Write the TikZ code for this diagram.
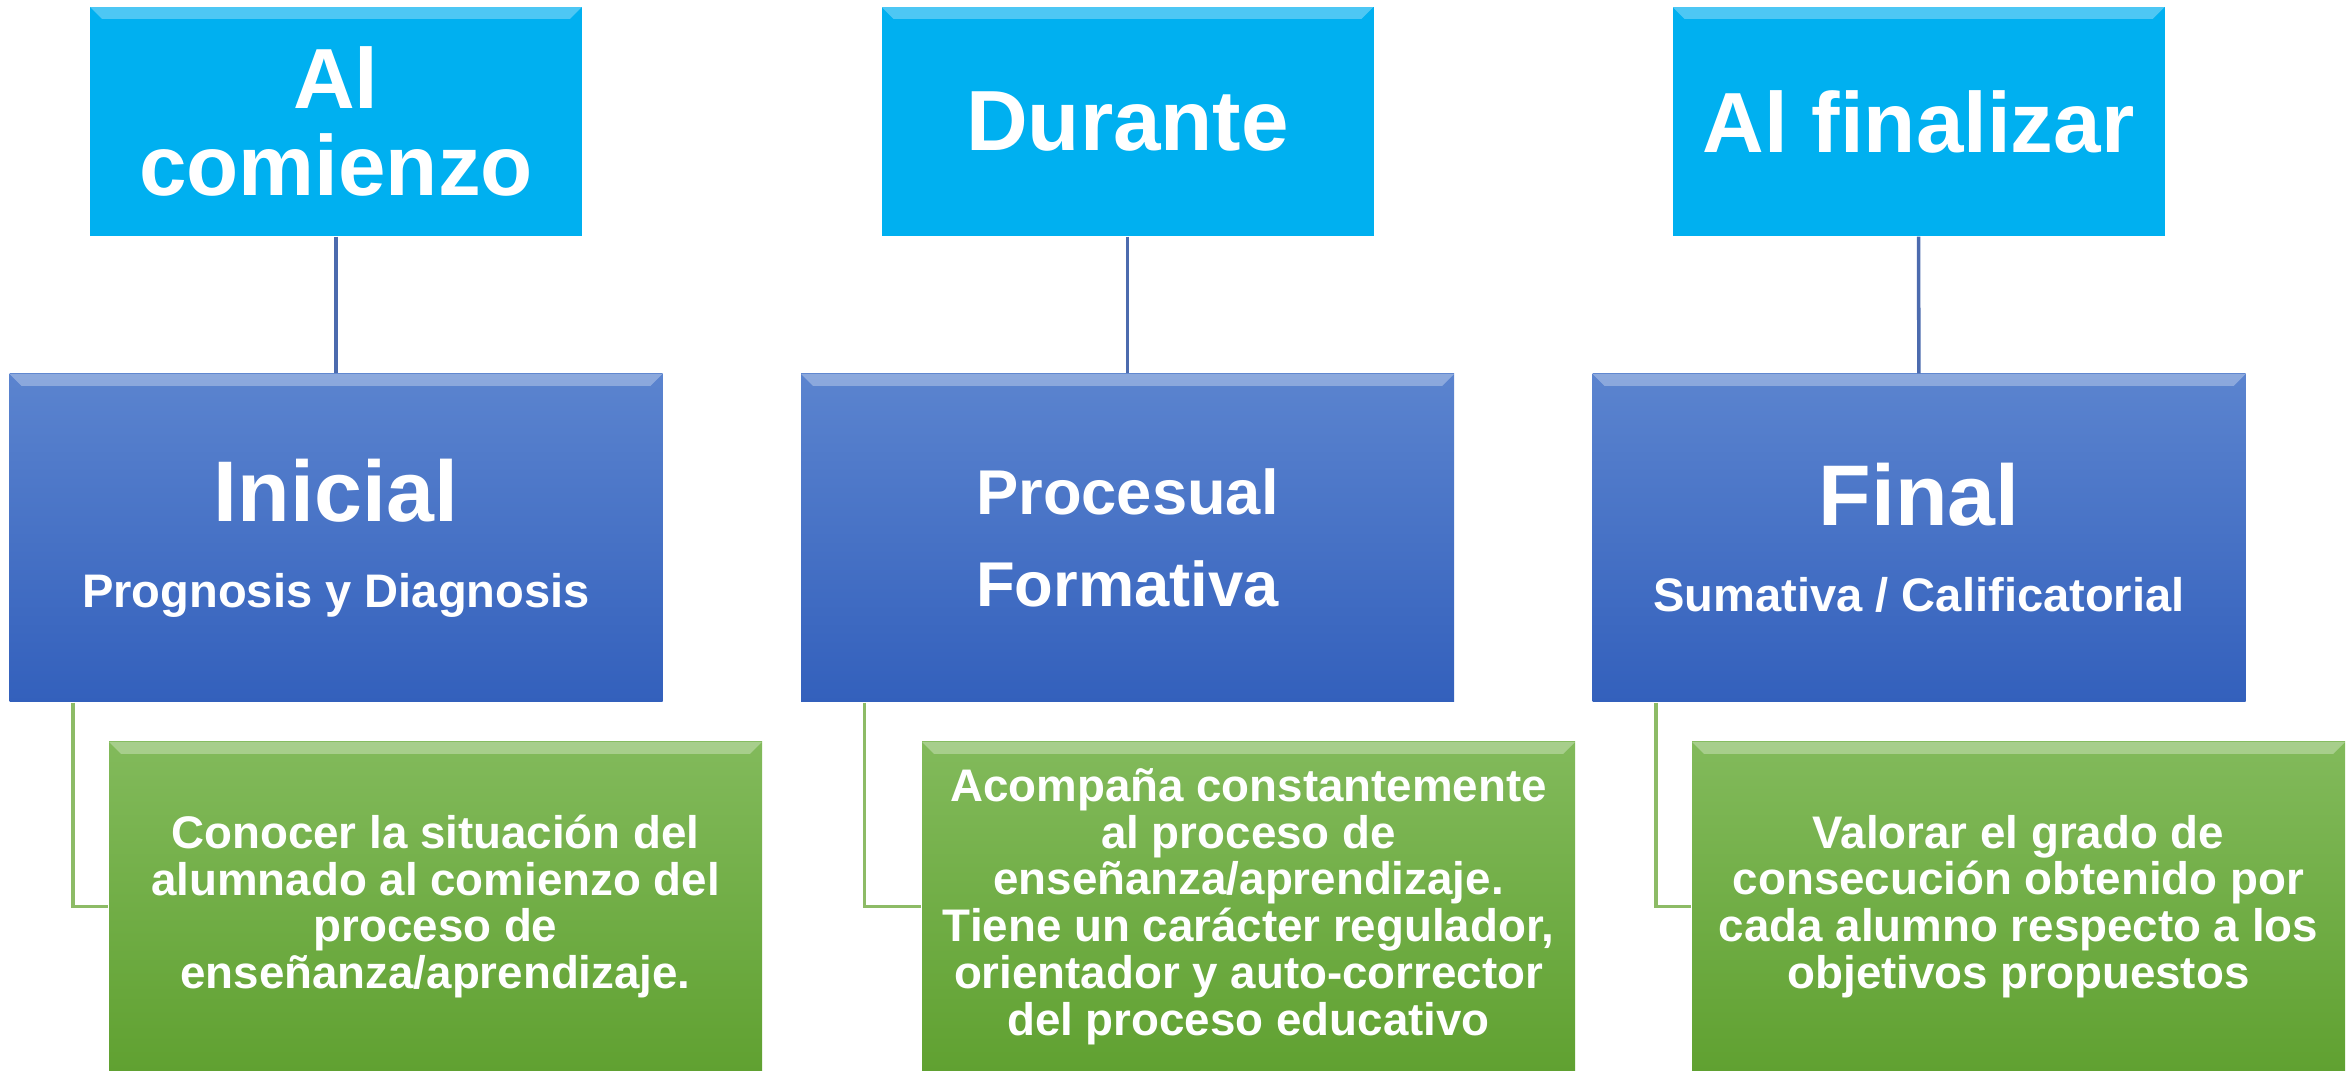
\documentclass[tikz,border=0pt]{standalone}
\usepackage{fontspec}
\setmainfont{Liberation Sans}
\usetikzlibrary{positioning}
\definecolor{cyanbox}{HTML}{00B0F0}
\definecolor{bluetop}{HTML}{5B84CF}
\definecolor{bluebot}{HTML}{3360BC}
\definecolor{greentop}{HTML}{82BA5B}
\definecolor{greenbot}{HTML}{60A131}
\definecolor{blueline}{HTML}{4C6BAE}
\definecolor{greenline}{HTML}{8DBB66}
\tikzset{
bevel/.style={ % light top edge of the boxes
path picture={
\fill[white, opacity=0.3] (path picture bounding box.north west) -- (path picture bounding box.north east)
 -- ([xshift=-0.12cm, yshift=-0.12cm]path picture bounding box.north east)
 -- ([xshift=0.12cm, yshift=-0.12cm]path picture bounding box.north west) -- cycle;}},
when/.style={ % top row
bevel, fill=cyanbox,
minimum width=4.92cm, minimum height=2.29cm, inner sep=0pt,
align=center, text=white,
font=\bfseries\fontsize{24.3}{24.5}\selectfont},
kind/.style={ % middle row
bevel, top color=bluetop, bottom color=bluebot,
minimum width=6.53cm, minimum height=3.28cm, inner sep=0pt,
align=center, text=white,
font=\bfseries\fontsize{24.5}{24.4}\selectfont},
aim/.style={ % bottom row
bevel, top color=greentop, bottom color=greenbot,
minimum width=6.53cm, minimum height=3.29cm, inner sep=0pt,
align=center, text=white,
font=\bfseries\fontsize{13}{13.3}\selectfont},
stem/.style={draw=blueline, line width=1pt},
elbow/.style={draw=greenline, line width=1pt}}

\begin{document}
\begin{tikzpicture}
\useasboundingbox (0,0) rectangle (23.46,-10.72);

\node[when] (T1) at (3.36,-1.215) {Al\\comienzo};
\node[when] (T2) at (11.275,-1.215) {Durante};
\node[when] (T3) at (19.185,-1.215) {Al finalizar};

\node[kind] (E1) at (3.36,-5.38) {Inicial\\{\fontsize{13.4}{16}\selectfont Prognosis y Diagnosis}};
\node[kind, font=\bfseries\fontsize{18}{26}\selectfont] (E2) at (11.275,-5.38) {Procesual\\Formativa};
\node[kind] (E3) at (19.19,-5.38) {Final\\{\fontsize{13.4}{16}\selectfont Sumativa / Calificatorial}};

\node[aim] (D1) at (4.355,-9.065) {Conocer la situación del\\alumnado al comienzo del\\proceso de\\enseñanza/aprendizaje.};
\node[aim] (D2) at (12.485,-9.065) {Acompaña constantemente\\al proceso de\\enseñanza/aprendizaje.\\Tiene un carácter regulador,\\orientador y auto-corrector\\del proceso educativo};
\node[aim] (D3) at (20.185,-9.065) {Valorar el grado de\\consecución obtenido por\\cada alumno respecto a los\\objetivos propuestos};

\draw[stem] (T1) -- (E1);
\draw[stem] (T2) -- (E2);
\draw[stem] (T3) -- (E3);

\draw[elbow] ([xshift=0.64cm]E1.south west) |- (D1.west);
\draw[elbow] ([xshift=0.64cm]E2.south west) |- (D2.west);
\draw[elbow] ([xshift=0.64cm]E3.south west) |- (D3.west);
\end{tikzpicture}
\end{document}
